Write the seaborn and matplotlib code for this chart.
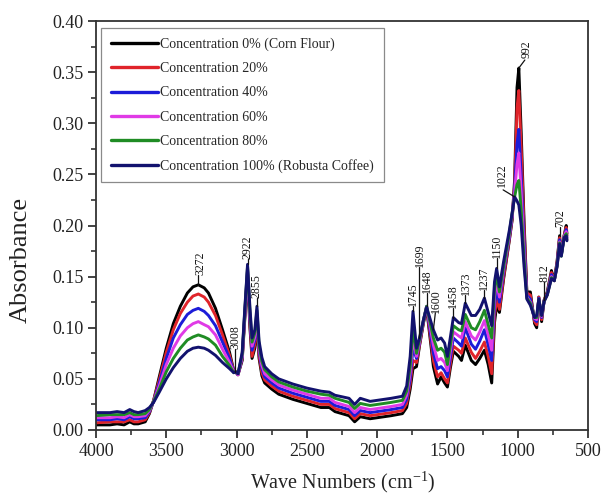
import numpy as np
import pandas as pd
import matplotlib
matplotlib.use("Agg")
import matplotlib.pyplot as plt
from matplotlib.ticker import MultipleLocator, FormatStrFormatter
from matplotlib.lines import Line2D
import seaborn as sns

# FTIR absorbance spectra of corn flour / robusta coffee blends
wavenumber = [4000, 3900, 3850, 3800, 3760, 3730, 3700, 3650, 3620, 3590,
              3550, 3500, 3450, 3400, 3350, 3310, 3272, 3230, 3200, 3150,
              3100, 3050, 3020, 3008, 2990, 2960, 2940, 2922, 2905, 2890,
              2870, 2855, 2840, 2820, 2800, 2750, 2700, 2600, 2500, 2400,
              2340, 2300, 2200, 2160, 2120, 2050, 2000, 1900, 1820, 1790,
              1765, 1745, 1720, 1699, 1670, 1648, 1600, 1570, 1545, 1520,
              1500, 1480, 1458, 1420, 1400, 1373, 1330, 1300, 1270, 1237,
              1210, 1185, 1165, 1150, 1130, 1100, 1060, 1040, 1022, 1005,
              992, 975, 955, 935, 910, 880, 865, 850, 830, 812,
              790, 760, 740, 720, 702, 690, 670, 655, 650]

conc_0 = [0.005, 0.005, 0.006, 0.005, 0.008, 0.006, 0.006, 0.008, 0.016, 0.029,
          0.052, 0.080, 0.104, 0.121, 0.134, 0.140, 0.142, 0.139, 0.134, 0.119,
          0.098, 0.076, 0.058, 0.057, 0.054, 0.068, 0.112, 0.150, 0.100, 0.070,
          0.080, 0.103, 0.070, 0.053, 0.046, 0.040, 0.035, 0.030, 0.026, 0.022,
          0.022, 0.018, 0.014, 0.008, 0.013, 0.011, 0.012, 0.014, 0.016, 0.022,
          0.040, 0.060, 0.062, 0.082, 0.105, 0.119, 0.062, 0.045, 0.052, 0.046,
          0.042, 0.060, 0.077, 0.072, 0.068, 0.083, 0.068, 0.064, 0.070, 0.078,
          0.064, 0.046, 0.105, 0.122, 0.115, 0.148, 0.185, 0.205, 0.245, 0.335,
          0.354, 0.290, 0.205, 0.135, 0.135, 0.104, 0.100, 0.130, 0.106, 0.127,
          0.135, 0.156, 0.146, 0.165, 0.190, 0.172, 0.190, 0.200, 0.192]

conc_20 = [0.007, 0.008, 0.008, 0.008, 0.010, 0.008, 0.008, 0.010, 0.017, 0.029,
           0.049, 0.076, 0.098, 0.114, 0.125, 0.131, 0.133, 0.130, 0.125, 0.112,
           0.093, 0.073, 0.058, 0.057, 0.054, 0.070, 0.114, 0.153, 0.104, 0.072,
           0.084, 0.106, 0.073, 0.056, 0.049, 0.043, 0.038, 0.033, 0.029, 0.025,
           0.025, 0.021, 0.017, 0.011, 0.016, 0.014, 0.015, 0.017, 0.019, 0.026,
           0.045, 0.068, 0.066, 0.083, 0.106, 0.120, 0.068, 0.052, 0.056, 0.050,
           0.046, 0.064, 0.082, 0.078, 0.075, 0.090, 0.076, 0.070, 0.077, 0.086,
           0.072, 0.055, 0.112, 0.128, 0.118, 0.150, 0.186, 0.206, 0.240, 0.315,
           0.332, 0.275, 0.198, 0.134, 0.132, 0.106, 0.103, 0.130, 0.108, 0.127,
           0.134, 0.154, 0.146, 0.164, 0.188, 0.172, 0.190, 0.198, 0.190]

conc_40 = [0.010, 0.010, 0.011, 0.010, 0.013, 0.011, 0.011, 0.012, 0.018, 0.028,
           0.046, 0.070, 0.090, 0.103, 0.113, 0.117, 0.119, 0.116, 0.112, 0.102,
           0.086, 0.070, 0.057, 0.057, 0.054, 0.071, 0.116, 0.156, 0.108, 0.078,
           0.088, 0.110, 0.077, 0.060, 0.052, 0.046, 0.041, 0.036, 0.032, 0.028,
           0.028, 0.024, 0.020, 0.014, 0.019, 0.017, 0.018, 0.020, 0.022, 0.030,
           0.050, 0.080, 0.070, 0.085, 0.107, 0.121, 0.075, 0.060, 0.062, 0.058,
           0.052, 0.070, 0.090, 0.085, 0.082, 0.100, 0.084, 0.079, 0.087, 0.098,
           0.083, 0.068, 0.122, 0.137, 0.125, 0.155, 0.188, 0.208, 0.236, 0.280,
           0.294, 0.248, 0.185, 0.132, 0.128, 0.108, 0.106, 0.129, 0.110, 0.126,
           0.133, 0.152, 0.146, 0.162, 0.186, 0.171, 0.189, 0.196, 0.188]

conc_60 = [0.012, 0.012, 0.013, 0.012, 0.015, 0.013, 0.013, 0.014, 0.019, 0.028,
           0.043, 0.064, 0.080, 0.092, 0.100, 0.104, 0.106, 0.103, 0.101, 0.093,
           0.079, 0.066, 0.057, 0.057, 0.054, 0.072, 0.118, 0.158, 0.112, 0.082,
           0.091, 0.113, 0.080, 0.063, 0.055, 0.049, 0.044, 0.039, 0.035, 0.031,
           0.031, 0.027, 0.023, 0.017, 0.022, 0.020, 0.021, 0.023, 0.025, 0.034,
           0.056, 0.090, 0.072, 0.086, 0.108, 0.121, 0.083, 0.068, 0.070, 0.066,
           0.058, 0.076, 0.096, 0.092, 0.090, 0.106, 0.092, 0.088, 0.096, 0.107,
           0.093, 0.078, 0.130, 0.145, 0.130, 0.158, 0.190, 0.210, 0.232, 0.260,
           0.271, 0.232, 0.175, 0.130, 0.125, 0.109, 0.108, 0.128, 0.111, 0.126,
           0.132, 0.150, 0.146, 0.160, 0.184, 0.171, 0.189, 0.194, 0.186]

conc_80 = [0.014, 0.015, 0.015, 0.015, 0.017, 0.015, 0.015, 0.016, 0.020, 0.028,
           0.040, 0.057, 0.070, 0.080, 0.088, 0.091, 0.093, 0.091, 0.089, 0.083,
           0.072, 0.063, 0.056, 0.057, 0.055, 0.074, 0.120, 0.160, 0.116, 0.086,
           0.095, 0.117, 0.083, 0.067, 0.059, 0.052, 0.047, 0.042, 0.038, 0.035,
           0.034, 0.031, 0.027, 0.021, 0.026, 0.024, 0.025, 0.027, 0.029, 0.038,
           0.062, 0.100, 0.075, 0.088, 0.108, 0.121, 0.090, 0.078, 0.080, 0.076,
           0.064, 0.082, 0.102, 0.098, 0.097, 0.113, 0.100, 0.098, 0.106, 0.117,
           0.103, 0.090, 0.138, 0.152, 0.135, 0.160, 0.192, 0.212, 0.228, 0.240,
           0.244, 0.215, 0.168, 0.129, 0.124, 0.110, 0.110, 0.128, 0.112, 0.126,
           0.132, 0.149, 0.146, 0.160, 0.183, 0.170, 0.188, 0.192, 0.186]

conc_100 = [0.017, 0.017, 0.018, 0.017, 0.020, 0.018, 0.017, 0.019, 0.022, 0.027,
            0.037, 0.050, 0.061, 0.070, 0.077, 0.080, 0.081, 0.080, 0.078, 0.073,
            0.066, 0.060, 0.056, 0.057, 0.055, 0.076, 0.122, 0.162, 0.120, 0.090,
            0.098, 0.121, 0.087, 0.071, 0.062, 0.055, 0.050, 0.045, 0.041, 0.038,
            0.037, 0.034, 0.031, 0.025, 0.031, 0.028, 0.029, 0.031, 0.033, 0.043,
            0.072, 0.116, 0.080, 0.090, 0.108, 0.120, 0.098, 0.088, 0.090, 0.085,
            0.072, 0.090, 0.110, 0.105, 0.104, 0.124, 0.112, 0.112, 0.118, 0.129,
            0.115, 0.102, 0.145, 0.158, 0.140, 0.165, 0.195, 0.212, 0.228, 0.224,
            0.220, 0.200, 0.160, 0.128, 0.122, 0.110, 0.112, 0.128, 0.112, 0.126,
            0.132, 0.148, 0.146, 0.160, 0.182, 0.170, 0.188, 0.190, 0.185]

sample_names = ["Concentration 0% (Corn Flour)", "Concentration 20%",
                "Concentration 40%", "Concentration 60%",
                "Concentration 80%", "Concentration 100% (Robusta Coffee)"]
series = [conc_0, conc_20, conc_40, conc_60, conc_80, conc_100]
line_colors = ["#000000", "#e0242a", "#1c1cd8", "#e03ae6", "#1f8c24", "#12126e"]

# Wavenumbers of the labelled absorption bands
peak_labels = [3272, 3008, 2922, 2855, 1745, 1699, 1648, 1600,
               1458, 1373, 1237, 1150, 1022, 992, 812, 702]

df = pd.concat(
    [pd.DataFrame({"wavenumber": wavenumber, "absorbance": vals, "sample": name})
     for name, vals in zip(sample_names, series)],
    ignore_index=True)

sns.set_theme(style="ticks")
plt.rcParams["font.family"] = ["Liberation Serif", "DejaVu Serif"]
plt.rcParams["mathtext.fontset"] = "custom"
plt.rcParams["mathtext.rm"] = "Liberation Serif"

fig = plt.figure(figsize=(6.03, 4.95), dpi=100)
ax = fig.add_axes([96 / 603, 1 - 430 / 495, 492 / 603, 409 / 495])

sns.lineplot(data=df, x="wavenumber", y="absorbance", hue="sample",
             hue_order=sample_names, palette=line_colors, sort=False,
             estimator=None, linewidth=2.1, legend=False, ax=ax)

ax.set_xlim(4000, 500)
ax.set_ylim(0.0, 0.40)
ax.xaxis.set_major_locator(MultipleLocator(500))
ax.xaxis.set_minor_locator(MultipleLocator(250))
ax.yaxis.set_major_locator(MultipleLocator(0.05))
ax.yaxis.set_minor_locator(MultipleLocator(0.025))
ax.yaxis.set_major_formatter(FormatStrFormatter("%.2f"))
ax.xaxis.set_major_formatter(FormatStrFormatter("%d"))
ax.tick_params(which="major", direction="out", length=6, width=1.2,
               labelsize=13, colors="#222222", pad=3)
ax.tick_params(which="minor", direction="out", length=3.5, width=1.1,
               colors="#222222")
for side in ["top", "right", "left", "bottom"]:
    ax.spines[side].set_visible(True)
    ax.spines[side].set_linewidth(1.3)
    ax.spines[side].set_color("#333333")

# Axis titles placed directly in figure coordinates
ax.set_xlabel("")
ax.set_ylabel("")
fig.text(343 / 603, 1 - 482 / 495, "Wave Numbers (cm$^{\\mathregular{-1}}$)",
         fontsize=14.5, color="#222222", ha="center", va="center")
fig.text(21 / 603, 1 - 260 / 495, "Absorbance", fontsize=19, rotation=90,
         color="#222222", ha="center", va="center")

# Peak annotations: vertical text with a leader line from the curve
px_x = 492 / 3500.0   # pixels per cm-1
px_y = 409 / 0.40     # pixels per absorbance unit
wn_arr = np.array(wavenumber)
data_arr = np.array(series)
layout = {  # label: (anchor sample index, text dx px, text gap px, line dx px, line gap px)
    3272: (0, 2, 10, 0, 10), 3008: (5, 0, 23, 0, 23), 2922: (5, 0, 5, 0, 5),
    2855: (5, 0, 8, 0, 8), 1745: (5, 0, 5, 0, 5), 1699: (5, 0, 71, 0, 71),
    1648: (None, 0, 13, 0, 13), 1600: (5, 3, 17, 2, 17), 1458: (5, 0, 10, 0, 10),
    1373: (5, 1, 8, 0, 8), 1237: (5, 0, 8, 0, 8), 1150: (5, 0, 10, 0, 10),
    1022: (5, -12.5, 10, -11.5, 7), 992: (0, 8, 10, 6, 8),
    812: (None, 0, 18, 0, 18), 702: (None, 1, 9, 0, 9),
}
for wn in peak_labels:
    idx = int(np.where(wn_arr == wn)[0][0])
    si, tdx, tgap, ldx, lgap = layout[wn]
    y0 = data_arr[:, idx].max() if si is None else data_arr[si, idx]
    x_text = wn - tdx / px_x
    y_text = y0 + tgap / px_y
    ax.plot([wn, wn - ldx / px_x], [y0, y0 + lgap / px_y],
            color="#111111", linewidth=0.9, zorder=5)
    ax.text(x_text, y_text, str(wn), rotation=90, ha="center", va="bottom",
            fontsize=8.5, color="#111111", zorder=6)

handles = [Line2D([0], [0], color=c, linewidth=2.4) for c in line_colors]
leg = ax.legend(handles, sample_names, loc="upper left",
                bbox_to_anchor=(5 / 492, 402 / 409), borderaxespad=0,
                fontsize=10, handlelength=3.4, handletextpad=0.15,
                labelspacing=0.8, borderpad=0.7, fancybox=False,
                framealpha=1, edgecolor="#8a8a8a")
leg.get_frame().set_linewidth(0.9)

fig.savefig("out.png", dpi=100)
